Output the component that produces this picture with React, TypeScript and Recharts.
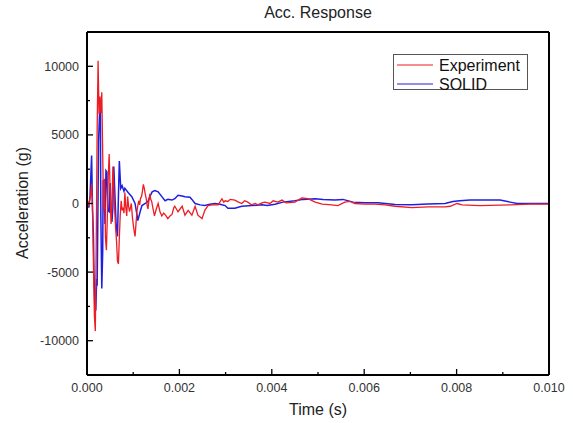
import { LineChart, Line, XAxis, YAxis, Legend } from 'recharts';

// Experiment (red) - time in s, acceleration in g
const expTime = [
  0, 0.00002, 0.00004, 0.00006, 0.00008, 0.0001, 0.00012, 0.00014, 0.00016, 0.00018,
  0.0002, 0.00022, 0.00024, 0.00026, 0.00028, 0.0003, 0.00032, 0.00034, 0.00036, 0.00038,
  0.0004, 0.00042, 0.00044, 0.00046, 0.00048, 0.0005, 0.00052, 0.00054, 0.00056, 0.00058,
  0.0006, 0.00062, 0.00064, 0.00066, 0.00068, 0.0007, 0.00072, 0.00074, 0.00076, 0.00078,
  0.0008, 0.00082, 0.00084, 0.00086, 0.00088, 0.0009, 0.00092, 0.00094, 0.00096, 0.00098,
  0.001, 0.00102, 0.00104, 0.00106, 0.00108, 0.0011, 0.00112, 0.00114, 0.00116, 0.00118,
  0.0012, 0.00122, 0.00124, 0.00126, 0.00128, 0.0013, 0.00132, 0.00134, 0.00136, 0.00138,
  0.0014, 0.00143, 0.00146, 0.0015, 0.00154, 0.00158, 0.00162, 0.00166, 0.0017, 0.00175,
  0.0018, 0.00184, 0.00188, 0.0019, 0.00197, 0.00206, 0.00212, 0.00219, 0.00227, 0.00234,
  0.0024, 0.00249, 0.00255, 0.00262, 0.00271, 0.00284, 0.00292, 0.00296, 0.00299, 0.00305,
  0.0031, 0.0032, 0.00328, 0.00335, 0.00341, 0.00348, 0.00356, 0.00364, 0.0037, 0.00379,
  0.00385, 0.00396, 0.00403, 0.00413, 0.00422, 0.00431, 0.0045, 0.00465, 0.00478, 0.00494,
  0.00509, 0.0053, 0.00543, 0.00558, 0.00569, 0.0058, 0.00602, 0.00623, 0.00645, 0.00667,
  0.00703, 0.00738, 0.00775, 0.00786, 0.00801, 0.00812, 0.0085, 0.00916, 0.00959, 0.01,
];
const expAcc = [
  0, 100, -200, 300, 600, 1400, -500, -4500, -8200, -9300,
  -3000, 5500, 10400, 6500, 7800, 6600, 8100, 3500, -500, 1800,
  -2500, -3400, -1000, 2000, 3600, 1000, -1500, -200, 2700, 1200,
  -500, -1800, -2800, -4200, -4400, -2500, -800, 200, -500, -300,
  -700, 800, -300, -900, 500, -200, -600, -300, 0, -900,
  -1500, -2000, -2400, -1500, -600, -150, 200, -100, 400, 500,
  900, 1400, 1100, 700, 400, -100, -400, 200, 700, 300,
  150, -400, -900, -400, 0, -600, -900, -700, -850, -1100,
  -900, -800, -300, -200, -600, -200, -850, -500, -850, -200,
  -850, -1100, -500, -150, -100, -100, 350, 100, 200, 150,
  300, 250, 100, 0, 200, 100, -100, 0, -100, 50,
  100, 0, 200, 100, 250, 50, 100, 400, 350, 100,
  -50, -100, -150, 100, 150, 0, -50, -50, -100, -200,
  -300, -250, -250, -200, 0, -100, -150, -100, -50, -50,
];

// SOLID (blue)
const solidTime = [
  0, 0.00002, 0.00004, 0.000065, 0.0001, 0.00012, 0.00014, 0.00015, 0.00017, 0.00019,
  0.00021, 0.00022, 0.00024, 0.00025, 0.00027, 0.00029, 0.0003, 0.00032, 0.00034, 0.00035,
  0.00037, 0.00039, 0.00041, 0.00043, 0.00045, 0.00048, 0.0005, 0.00052, 0.00054, 0.00056,
  0.00058, 0.0006, 0.00063, 0.00066, 0.00068, 0.0007, 0.00073, 0.00076, 0.0008, 0.00082,
  0.00089, 0.00097, 0.00104, 0.00108, 0.0011, 0.00115, 0.00119, 0.00126, 0.00132, 0.00136,
  0.00141, 0.00147, 0.00154, 0.00162, 0.00169, 0.00175, 0.00184, 0.0019, 0.00197, 0.00206,
  0.00212, 0.00223, 0.00227, 0.00234, 0.00245, 0.00255, 0.00266, 0.00277, 0.00288, 0.00299,
  0.00305, 0.0032, 0.00335, 0.00357, 0.00379, 0.0039, 0.00407, 0.00424, 0.0045, 0.00468,
  0.00494, 0.00511, 0.00537, 0.00554, 0.00576, 0.00602, 0.0063, 0.00667, 0.00703, 0.00738,
  0.00775, 0.00792, 0.00807, 0.00829, 0.00894, 0.00916, 0.00931, 0.0098, 0.01,
];
const solidAcc = [
  0, -100, -300, 500, 3500, -500, -2400, -5000, -7400, -7800,
  -5500, -6000, 700, 4500, 6400, 6900, -1000, -6200, -3500, 1700,
  1000, -1500, 2400, 2300, -500, -600, 1500, -200, -1350, -300,
  2700, 1000, -1500, -2400, 500, 3100, 1100, 1300, 900, 1100,
  800, 500, 0, -800, -1250, -600, -150, 0, 150, 500,
  850, 950, 850, 500, 200, 300, 250, 350, 600, 550,
  500, 450, 300, 0, -100, -150, -50, 0, -50, -150,
  -350, -350, -200, -150, -100, -150, -50, 100, 200, 300,
  350, 300, 250, 300, 100, 50, 50, -80, -100, -30,
  0, 150, 200, 250, 250, 100, 0, 0, 0,
];

const xTicks = [0, 0.001, 0.002, 0.003, 0.004, 0.005, 0.006, 0.007, 0.008, 0.009, 0.01];
const yTicks = [-10000, -7500, -5000, -2500, 0, 2500, 5000, 7500, 10000];

const expData = expTime.map((t, i) => ({ t, acc: expAcc[i] }));
const solidData = solidTime.map((t, i) => ({ t, acc: solidAcc[i] }));

const FONT = '"Liberation Sans", Arial, sans-serif';
const RED = '#ee1d23';
const BLUE = '#1f1fe0';

const isMajorX = (v: number) => Math.round(v * 1000) % 2 === 0;
const isMajorY = (v: number) => v % 5000 === 0;

function BottomTick({ x, y, payload }: any) {
  const major = isMajorX(payload.value);
  return (
    <g>
      <line x1={x} y1={y} x2={x} y2={y - (major ? 6 : 3)} stroke="#000" strokeWidth={1.3} />
      {major && (
        <text x={x} y={y + 17} textAnchor="middle" fontSize={12.5} fill="#333" fontFamily={FONT}>
          {payload.value.toFixed(3)}
        </text>
      )}
    </g>
  );
}

function TopTick({ x, y, payload }: any) {
  const major = isMajorX(payload.value);
  return <line x1={x} y1={y} x2={x} y2={y + (major ? 6 : 3)} stroke="#000" strokeWidth={1.3} />;
}

function LeftTick({ x, y, payload }: any) {
  const major = isMajorY(payload.value);
  return (
    <g>
      <line x1={x} y1={y} x2={x + (major ? 6 : 3)} y2={y} stroke="#000" strokeWidth={1.3} />
      {major && (
        <text x={x - 8} y={y + 4.5} textAnchor="end" fontSize={12.5} fill="#333" fontFamily={FONT}>
          {payload.value}
        </text>
      )}
    </g>
  );
}

function RightTick({ x, y, payload }: any) {
  const major = isMajorY(payload.value);
  return <line x1={x} y1={y} x2={x - (major ? 6 : 3)} y2={y} stroke="#000" strokeWidth={1.3} />;
}

function LegendBox() {
  return (
    <svg width={136} height={38} style={{ display: 'block' }}>
      <rect x={0.5} y={0.5} width={134} height={35} fill="#fff" stroke="#555" strokeWidth={1} />
      <line x1={4} x2={40} y1={11} y2={11} stroke={RED} strokeWidth={1.2} />
      <text x={46} y={17} fontSize={16} fill="#111" fontFamily={FONT}>Experiment</text>
      <line x1={4} x2={40} y1={30} y2={30} stroke={BLUE} strokeWidth={1.2} />
      <text x={46} y={35.5} fontSize={16} fill="#111" fontFamily={FONT}>SOLID</text>
    </svg>
  );
}

const axisLine = { stroke: '#000', strokeWidth: 2 };

export default function App() {
  return (
    <div style={{ position: 'absolute', left: 0, top: 0, width: 573, height: 423, background: '#fff', fontFamily: FONT }}>
      <div style={{ position: 'absolute', left: 87, top: 4, width: 462, textAlign: 'center', fontSize: 16, color: '#222' }}>
        Acc. Response
      </div>
      <div style={{ position: 'absolute', left: 87, top: 401, width: 462, textAlign: 'center', fontSize: 16, color: '#222' }}>
        Time (s)
      </div>
      <div
        style={{
          position: 'absolute', left: 23, top: 203, width: 200, marginLeft: -100, marginTop: -9,
          textAlign: 'center', fontSize: 16, color: '#222', transform: 'rotate(-90deg)',
        }}
      >
        Acceleration (g)
      </div>
      <LineChart width={573} height={423} margin={{ top: 22, right: 14, bottom: 8, left: 8 }}>
        <XAxis
          dataKey="t" type="number" domain={[0, 0.01]} ticks={xTicks} interval={0}
          axisLine={axisLine} tickLine={false} tickSize={0} tickMargin={0} height={40} tick={<BottomTick />}
        />
        <XAxis
          xAxisId="top" orientation="top" dataKey="t" type="number" domain={[0, 0.01]} ticks={xTicks} interval={0}
          axisLine={axisLine} tickLine={false} tickSize={0} tickMargin={0} height={10} tick={<TopTick />}
        />
        <YAxis
          type="number" domain={[-12500, 12500]} ticks={yTicks} interval={0}
          axisLine={axisLine} tickLine={false} tickSize={0} tickMargin={0} width={79} tick={<LeftTick />}
        />
        <YAxis
          yAxisId="right" orientation="right" type="number" domain={[-12500, 12500]} ticks={yTicks} interval={0}
          axisLine={axisLine} tickLine={false} tickSize={0} tickMargin={0} width={10} tick={<RightTick />}
        />
        <Legend
          layout="vertical" align="center" verticalAlign="middle"
          wrapperStyle={{ left: 393, top: 54, width: 136, height: 38 }}
          content={() => <LegendBox />}
        />
        <Line data={solidData} dataKey="acc" name="SOLID" stroke={BLUE} strokeWidth={1.5} dot={false} isAnimationActive={false} />
        <Line data={expData} dataKey="acc" name="Experiment" stroke={RED} strokeWidth={1.3} dot={false} isAnimationActive={false} />
      </LineChart>
    </div>
  );
}
